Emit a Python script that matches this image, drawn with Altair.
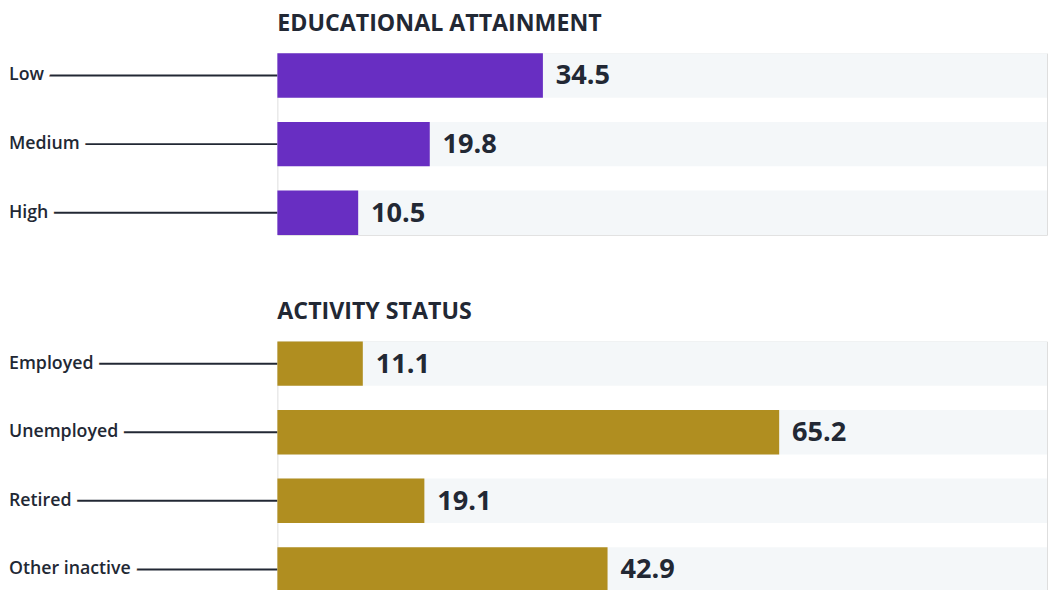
import altair as alt
import pandas as pd

edu_labels = ["Low", "Medium", "High"]
edu_values = [34.5, 19.8, 10.5]
act_labels = ["Employed", "Unemployed", "Retired", "Other inactive"]
act_values = [11.1, 65.2, 19.1, 42.9]
scale_max = 100

TEXT = "#222834"
FONT = "Open Sans"


def panel(labels, values, color, title, height):
    df = pd.DataFrame({"label": labels, "value": values})
    base = alt.Chart(df).transform_calculate(full=str(scale_max)).encode(
        y=alt.Y("label:N", sort=labels, axis=None,
                scale=alt.Scale(paddingInner=0.3525, paddingOuter=0))
    )
    xs = alt.Scale(domain=[0, scale_max])
    bg = base.mark_bar(color="#F4F7F9").encode(
        x=alt.X("full:Q", scale=xs, axis=None))
    rule = base.mark_rule(color=TEXT, strokeWidth=2).encode(
        x=alt.value(-262), x2=alt.value(0))
    halo = base.mark_text(align="left", baseline="middle", font=FONT,
                          fontWeight=600, fontSize=18, color="white",
                          stroke="white", strokeWidth=14, strokeJoin="round").encode(
        x=alt.value(-272), text="label:N")
    lab = base.mark_text(align="left", baseline="middle", font=FONT,
                         fontWeight=600, fontSize=18, color=TEXT).encode(
        x=alt.value(-272), text="label:N")
    bar = base.mark_bar(color=color).encode(x=alt.X("value:Q", scale=xs))
    val = base.mark_text(align="left", baseline="middle", font=FONT,
                         fontWeight=700, fontSize=27.5, color=TEXT, dx=13, dy=1).encode(
        x=alt.X("value:Q", scale=xs), text=alt.Text("value:Q", format=".1f"))
    return alt.layer(bg, rule, halo, lab, bar, val).properties(
        width=780, height=height,
        title=alt.TitleParams(title, anchor="start", frame="group", fontSize=23.5,
                              font=FONT, fontWeight=700, color=TEXT, offset=18),
    )


p1 = panel(edu_labels, edu_values, "#682EC2", "EDUCATIONAL ATTAINMENT", 184)
p2 = panel(act_labels, act_values, "#B08E20", "ACTIVITY STATUS", 253.5)

chart = alt.vconcat(p1, p2, spacing=65).properties(padding=0).configure_view(
    stroke=None).configure(background="white")

chart.save("out.html", embed_options={"renderer": "svg", "actions": False})
